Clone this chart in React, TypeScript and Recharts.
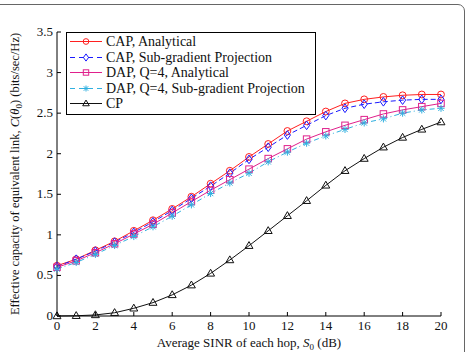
import React from 'react';
import { LineChart, Line, XAxis, YAxis, Legend } from 'recharts';

const sinrDb = [0, 1, 2, 3, 4, 5, 6, 7, 8, 9, 10, 11, 12, 13, 14, 15, 16, 17, 18, 19, 20];
const capAnalytical = [0.62, 0.7, 0.81, 0.92, 1.05, 1.18, 1.32, 1.47, 1.63, 1.79, 1.96, 2.12, 2.28, 2.4, 2.52, 2.62, 2.67, 2.7, 2.72, 2.73, 2.73];
const capSubgradient = [0.61, 0.7, 0.8, 0.91, 1.03, 1.16, 1.3, 1.45, 1.6, 1.76, 1.93, 2.08, 2.23, 2.35, 2.47, 2.56, 2.61, 2.64, 2.66, 2.67, 2.67];
const dapAnalytical = [0.6, 0.68, 0.78, 0.89, 1.01, 1.13, 1.27, 1.41, 1.55, 1.68, 1.81, 1.94, 2.06, 2.18, 2.27, 2.35, 2.42, 2.49, 2.54, 2.58, 2.62];
const dapSubgradient = [0.58, 0.66, 0.76, 0.87, 0.98, 1.1, 1.23, 1.37, 1.51, 1.64, 1.76, 1.9, 2.02, 2.13, 2.22, 2.3, 2.38, 2.43, 2.5, 2.54, 2.56];
const cp = [0, 0.003, 0.013, 0.04, 0.095, 0.165, 0.26, 0.38, 0.525, 0.69, 0.866, 1.05, 1.235, 1.42, 1.61, 1.79, 1.94, 2.08, 2.2, 2.3, 2.39];

const xTicks = [0, 2, 4, 6, 8, 10, 12, 14, 16, 18, 20];
const yTicks = [0, 0.5, 1, 1.5, 2, 2.5, 3, 3.5];

const data = sinrDb.map((s, i) => ({
  s,
  capA: capAnalytical[i],
  capS: capSubgradient[i],
  dapA: dapAnalytical[i],
  dapS: dapSubgradient[i],
  cp: cp[i],
}));

const FONT = '"Liberation Serif", serif';
const TICK = 4;

type Shape = 'circle' | 'diamond' | 'square' | 'star' | 'triangle';

const series: { key: string; name: string; color: string; dash?: string; shape: Shape }[] = [
  { key: 'capA', name: 'CAP, Analytical', color: '#ff2020', shape: 'circle' },
  { key: 'capS', name: 'CAP, Sub-gradient Projection', color: '#1a1aff', dash: '5 3', shape: 'diamond' },
  { key: 'dapA', name: 'DAP, Q=4, Analytical', color: '#e0208c', shape: 'square' },
  { key: 'dapS', name: 'DAP, Q=4, Sub-gradient Projection', color: '#30b0e0', dash: '5 3 1 3', shape: 'star' },
  { key: 'cp', name: 'CP', color: '#111111', shape: 'triangle' },
];

function Marker({ cx, cy, shape, color, size = 3.6 }: { cx: number; cy: number; shape: Shape; color: string; size?: number }) {
  const s = size;
  const common = { fill: 'none', stroke: color, strokeWidth: 1 };
  switch (shape) {
    case 'circle':
      return <circle cx={cx} cy={cy} r={s * 0.95} {...common} />;
    case 'diamond':
      return <polygon points={`${cx},${cy - s * 1.2} ${cx + s * 0.85},${cy} ${cx},${cy + s * 1.2} ${cx - s * 0.85},${cy}`} {...common} />;
    case 'square':
      return <rect x={cx - s * 0.9} y={cy - s * 0.9} width={s * 1.8} height={s * 1.8} {...common} />;
    case 'star': {
      const d = s * 0.75;
      return (
        <g {...common}>
          <line x1={cx - s} y1={cy} x2={cx + s} y2={cy} />
          <line x1={cx} y1={cy - s} x2={cx} y2={cy + s} />
          <line x1={cx - d} y1={cy - d} x2={cx + d} y2={cy + d} />
          <line x1={cx - d} y1={cy + d} x2={cx + d} y2={cy - d} />
        </g>
      );
    }
    case 'triangle':
      return <polygon points={`${cx},${cy - s * 1.15} ${cx + s * 1.1},${cy + s * 0.75} ${cx - s * 1.1},${cy + s * 0.75}`} {...common} />;
  }
}

const makeDot = (shape: Shape, color: string) => (props: any) => {
  const { cx, cy, index } = props;
  if (cx == null || cy == null) return <g key={index} />;
  return <Marker key={index} cx={cx} cy={cy} shape={shape} color={color} />;
};

// inward ticks with labels on the bottom / left, bare ticks on top / right
const BottomTick = (props: any) => {
  const { x, y, payload } = props;
  return (
    <g>
      <line x1={x} y1={y} x2={x} y2={y - TICK} stroke="#000" />
      <text x={x} y={y + 14} textAnchor="middle" fontFamily={FONT} fontSize={13} fill="#111">
        {payload.value}
      </text>
    </g>
  );
};
const TopTick = (props: any) => {
  const { x, y } = props;
  return <line x1={x} y1={y} x2={x} y2={y + TICK} stroke="#000" />;
};
const LeftTick = (props: any) => {
  const { x, y, payload } = props;
  return (
    <g>
      <line x1={x} y1={y} x2={x + TICK} y2={y} stroke="#000" />
      <text x={x - 4} y={y + 4} textAnchor="end" fontFamily={FONT} fontSize={13} fill="#111">
        {payload.value}
      </text>
    </g>
  );
};
const RightTick = (props: any) => {
  const { x, y } = props;
  return <line x1={x} y1={y} x2={x - TICK} y2={y} stroke="#000" />;
};

const LegendBox = () => (
  <div
    style={{
      border: '1px solid #000',
      background: '#fff',
      padding: '1px 10px 2px 2px',
      fontFamily: FONT,
      fontSize: 14,
      lineHeight: '15.5px',
      color: '#111',
    }}
  >
    {series.map((sr) => (
      <div key={sr.key} style={{ display: 'flex', alignItems: 'center', whiteSpace: 'nowrap' }}>
        <svg width={34} height={15.5} style={{ marginRight: 3 }}>
          <line x1={1} y1={7.5} x2={33} y2={7.5} stroke={sr.color} strokeDasharray={sr.dash ? '5 4' : undefined} />
          <Marker cx={17} cy={7.5} shape={sr.shape} color={sr.color} size={3} />
        </svg>
        <span>{sr.name}</span>
      </div>
    ))}
  </div>
);

const YLabel = (props: any) => {
  const { viewBox } = props;
  const cy = viewBox.y + viewBox.height / 2;
  return (
    <text
      x={19}
      y={cy}
      transform={`rotate(-90 19 ${cy})`}
      textAnchor="middle"
      fontFamily={FONT}
      fontSize={12.5}
      fill="#111"
    >
      Effective capacity of equivalent link, <tspan fontStyle="italic">C</tspan>(<tspan fontStyle="italic">θ</tspan>
      <tspan fontSize={9} dy={3}>0</tspan>
      <tspan dy={-3}>) (bits/sec/Hz)</tspan>
    </text>
  );
};

const XLabel = (props: any) => {
  const { viewBox } = props;
  const cx = viewBox.x + viewBox.width / 2;
  return (
    <text x={cx} y={347} textAnchor="middle" fontFamily={FONT} fontSize={13} fill="#111">
      Average SINR of each hop, <tspan fontStyle="italic">S</tspan>
      <tspan fontSize={9} dy={3}>0</tspan>
      <tspan dy={-3}> (dB)</tspan>
    </text>
  );
};

export default function App() {
  return (
    <div style={{ position: 'fixed', left: 0, top: 0, width: 474, height: 352, background: '#fff', overflow: 'hidden' }}>
      <div
        style={{
          position: 'absolute',
          left: -10,
          top: 4,
          width: 475,
          height: 360,
          border: '1px solid #666',
          borderRadius: 7,
          boxSizing: 'border-box',
        }}
      />
      <LineChart width={474} height={352} data={data} margin={{ top: 32, right: 33, left: 0, bottom: 0 }}>
        <XAxis
          xAxisId="b"
          type="number"
          dataKey="s"
          domain={[0, 20]}
          ticks={xTicks}
          height={36}
          tickSize={0}
          tickMargin={0}
          tick={<BottomTick />}
          stroke="#000"
          interval={0}
          label={<XLabel />}
        />
        <XAxis
          xAxisId="t"
          orientation="top"
          type="number"
          dataKey="s"
          domain={[0, 20]}
          ticks={xTicks}
          height={0}
          tickSize={0}
          tickMargin={0}
          tick={<TopTick />}
          stroke="#000"
          interval={0}
        />
        <YAxis
          yAxisId="l"
          type="number"
          domain={[0, 3.5]}
          ticks={yTicks}
          width={57}
          tickSize={0}
          tickMargin={0}
          tick={<LeftTick />}
          stroke="#000"
          interval={0}
          label={<YLabel />}
        />
        <YAxis
          yAxisId="r"
          orientation="right"
          type="number"
          domain={[0, 3.5]}
          ticks={yTicks}
          width={0}
          tickSize={0}
          tickMargin={0}
          tick={<RightTick />}
          stroke="#000"
          interval={0}
        />
        <Legend
          layout="horizontal"
          verticalAlign="middle"
          align="center"
          content={<LegendBox />}
          wrapperStyle={{ position: 'absolute', left: 66, top: 32, width: 'auto', height: 'auto' }}
        />
        {series.map((sr) => (
          <Line
            key={sr.key}
            xAxisId="b"
            yAxisId="l"
            dataKey={sr.key}
            name={sr.name}
            type="linear"
            stroke={sr.color}
            strokeWidth={1}
            strokeDasharray={sr.dash}
            dot={makeDot(sr.shape, sr.color)}
            activeDot={false}
            isAnimationActive={false}
          />
        ))}
      </LineChart>
    </div>
  );
}
